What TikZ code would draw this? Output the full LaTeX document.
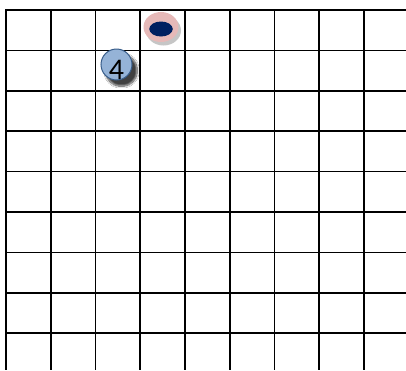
\documentclass[tikz,border=0pt]{standalone}
\usepackage{fontspec}
\setmainfont{Carlito}
\usetikzlibrary{shadows.blur,shapes.geometric}
\definecolor{ringpink}{HTML}{E6B9B8}
\definecolor{navy}{HTML}{002060}
\definecolor{ballfill}{HTML}{95B3D7}
\definecolor{ballline}{HTML}{385D8A}
\tikzset{
  gridline/.style={line width=1.6pt, black},
  ball/.style={circle, draw=ballline, line width=1pt, fill=ballfill, minimum size=31pt, inner sep=0pt,
    blur shadow={shadow xshift=5pt, shadow yshift=-6pt, shadow blur steps=10, shadow blur extra rounding=3pt, shadow opacity=75}},
  digitlabel/.style={font=\fontsize{30}{30}\selectfont, inner sep=0pt, anchor=base},
}
\begin{document}
\begin{tikzpicture}[x=1pt,y=-1pt]
\useasboundingbox (0,0) rectangle (406,370);
\fill[white] (0,0) rectangle (406,370);
% grid
\foreach \k in {0,...,8}{
  \draw[gridline] (6+44.75*\k,10) -- (6+44.75*\k,370);
  \draw[gridline] (5.2,10+40.4*\k) -- (406,10+40.4*\k);
}
% ring token
\fill[gray!45] (163.5,30.5) ellipse [x radius=17.5pt, y radius=15pt];
\node[ellipse, fill=ringpink, minimum width=35pt, minimum height=30pt, inner sep=0pt] (ring) at (161,27) {};
\node[ellipse, fill=navy, minimum width=23.5pt, minimum height=15pt, inner sep=0pt] (core) at (161,29) {};
% numbered ball
\node[ball] (ball) at (116.5,64.5) {};
\node[digitlabel] (digit) at (116.5,79.5) {4};
\end{tikzpicture}
\end{document}
